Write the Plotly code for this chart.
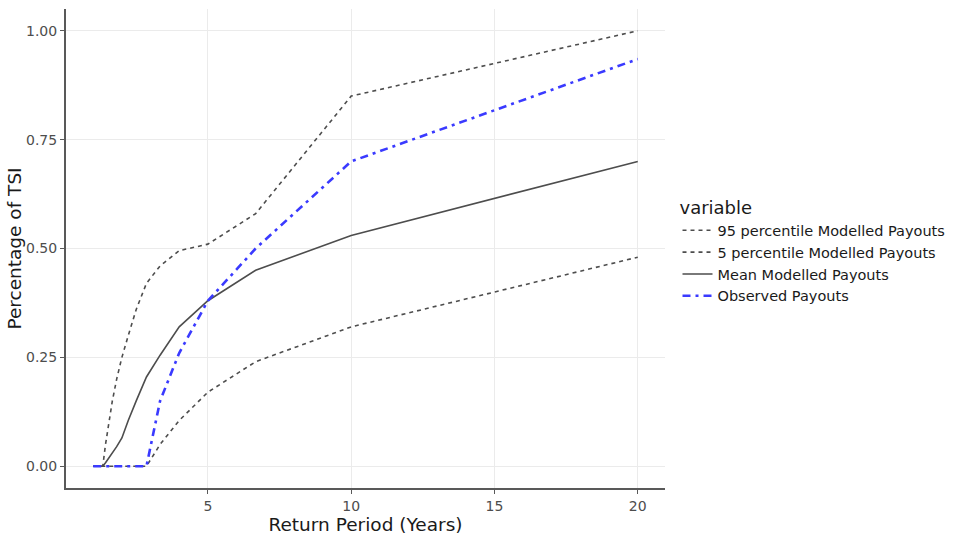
import plotly.graph_objects as go

return_period = [1.0, 1.053, 1.111, 1.176, 1.25, 1.333, 1.429, 1.538, 1.667, 1.818,
                 2.0, 2.222, 2.5, 2.857, 3.333, 4.0, 5.0, 6.667, 10.0, 20.0]
p95 = [0, 0, 0, 0, 0, 0, 0.05, 0.10, 0.15, 0.20,
       0.25, 0.30, 0.36, 0.42, 0.46, 0.495, 0.51, 0.58, 0.85, 1.00]
p5 = [0, 0, 0, 0, 0, 0, 0, 0, 0, 0,
      0, 0, 0, 0, 0.05, 0.105, 0.17, 0.24, 0.32, 0.48]
mean = [0, 0, 0, 0, 0, 0, 0.008, 0.018, 0.03, 0.045,
        0.065, 0.105, 0.15, 0.205, 0.255, 0.32, 0.38, 0.45, 0.53, 0.70]
observed = [0, 0, 0, 0, 0, 0, 0, 0, 0, 0,
            0, 0, 0, 0, 0.15, 0.26, 0.38, 0.50, 0.70, 0.935]

names = ["95 percentile Modelled Payouts", "5 percentile Modelled Payouts",
         "Mean Modelled Payouts", "Observed Payouts"]
x_ticks = [5, 10, 15, 20]
y_ticks = [0.0, 0.25, 0.5, 0.75, 1.0]
y_ticklabels = ["0.00", "0.25", "0.50", "0.75", "1.00"]

grey = "#4d4d4d"
blue = "#3a3aff"
styles = [
    dict(color=grey, width=1.6, dash="4px,4px"),
    dict(color=grey, width=1.6, dash="4px,4px"),
    dict(color=grey, width=1.6, dash="solid"),
    dict(color=blue, width=2.6, dash="8px,5px,3px,5px"),
]
series = [p95, p5, mean, observed]

fig = go.Figure()
for nm, ys, st in zip(names, series, styles):
    fig.add_trace(go.Scatter(x=return_period, y=ys, mode="lines", name=nm, line=st))

font_family = "DejaVu Sans, Liberation Sans, sans-serif"
fig.update_layout(
    width=961, height=535,
    margin=dict(l=66, r=296, t=9, b=47),
    plot_bgcolor="white", paper_bgcolor="white",
    font=dict(family=font_family, color="#4d4d4d", size=14),
    legend=dict(
        title=dict(text="variable", font=dict(size=18, color="#1a1a1a")),
        xref="container", yref="container",
        x=0.705, xanchor="left", y=0.53, yanchor="middle",
        font=dict(size=14.5, color="#1a1a1a"),
        tracegroupgap=0, itemwidth=30,
    ),
    xaxis=dict(
        range=[0.05, 20.95], tickvals=x_ticks, ticktext=[str(v) for v in x_ticks],
        showgrid=True, gridcolor="#ebebeb", gridwidth=1, zeroline=False,
        showline=True, linecolor="#595959", linewidth=2,
        ticks="outside", ticklen=4, tickcolor="#595959", tickwidth=1,
        tickfont=dict(size=14, color="#4d4d4d"), automargin=False,
        title=dict(text="Return Period (Years)", font=dict(size=18.5, color="#1a1a1a"), standoff=1),
    ),
    yaxis=dict(
        range=[-0.05, 1.05], tickvals=y_ticks, ticktext=y_ticklabels,
        showgrid=True, gridcolor="#ebebeb", gridwidth=1, zeroline=False,
        showline=True, linecolor="#595959", linewidth=2,
        ticks="outside", ticklen=4, tickcolor="#595959", tickwidth=1,
        tickfont=dict(size=14, color="#4d4d4d"), automargin=False,
        title=dict(text="Percentage of TSI", font=dict(size=18.5, color="#1a1a1a"), standoff=0),
    ),
)

fig.write_html("out.html")
